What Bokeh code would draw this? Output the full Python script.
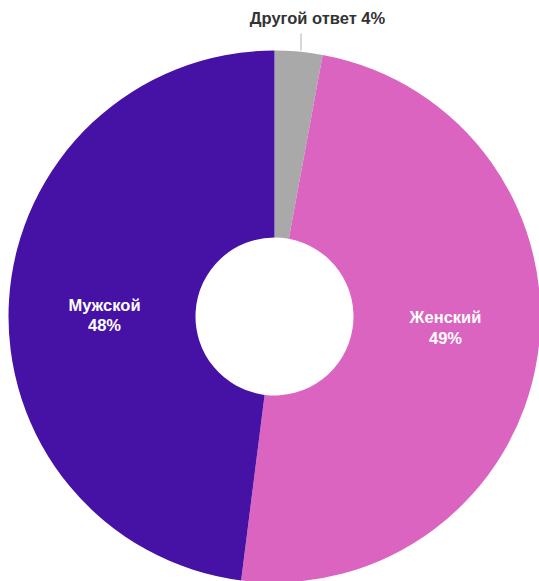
import numpy as np
from bokeh.plotting import figure
from bokeh.models import Range1d, ColumnDataSource
from bokeh.core.properties import value
from bokeh.embed import file_html
from bokeh.resources import INLINE

# Data (clockwise from 12 o'clock)
categories = ["Другой ответ", "Женский", "Мужской"]
shares = [2.9, 49.1, 48.0]
pct_labels = ["4%", "49%", "48%"]
colors = ["#a9a9a9", "#db64c0", "#4612a6"]

W, H = 539, 581
p = figure(width=W, height=H, output_backend="svg", toolbar_location=None,
           x_range=Range1d(0, W), y_range=Range1d(0, H), min_border=0)
p.axis.visible = False
p.grid.visible = False
p.outline_line_color = None
p.background_fill_color = "white"
p.border_fill_color = "white"

cx, cy = 274, H - 316
r_in, r_out = 79, 266

vals = np.array(shares, dtype=float)
frac = vals / vals.sum()
cum = np.concatenate([[0], np.cumsum(frac)])
start = np.pi / 2 - cum[1:] * 2 * np.pi
end = np.pi / 2 - cum[:-1] * 2 * np.pi

src = ColumnDataSource(dict(start=start, end=end, color=colors))
p.annular_wedge(x=cx, y=cy, inner_radius=r_in, outer_radius=r_out,
                start_angle="start", end_angle="end", fill_color="color",
                line_color=None, source=src)

font = value("Liberation Sans")
fs = "16.5px"

# inside labels (screen-space y positions)
inside = {1: (445, 316, 337), 2: (104, 304, 324)}
for i, (lx, y1, y2) in inside.items():
    p.text(x=[lx], y=[H - y1], text=[categories[i]], text_font=font,
           text_font_size=fs, text_font_style="bold", text_color="white",
           text_align="center", text_baseline="middle")
    p.text(x=[lx], y=[H - y2], text=[pct_labels[i]], text_font=font,
           text_font_size=fs, text_font_style="bold", text_color="white",
           text_align="center", text_baseline="middle")

# outside label for small slice
p.segment(x0=[300.5], y0=[H - 50], x1=[300.5], y1=[H - 33], line_color="#b0b0b0", line_width=1)
p.text(x=[317], y=[H - 17], text=[f"{categories[0]} {pct_labels[0]}"], text_font=font,
       text_font_size=fs, text_font_style="bold", text_color="#333333",
       text_align="center", text_baseline="middle")

open("out.html", "w").write(file_html(p, INLINE))
